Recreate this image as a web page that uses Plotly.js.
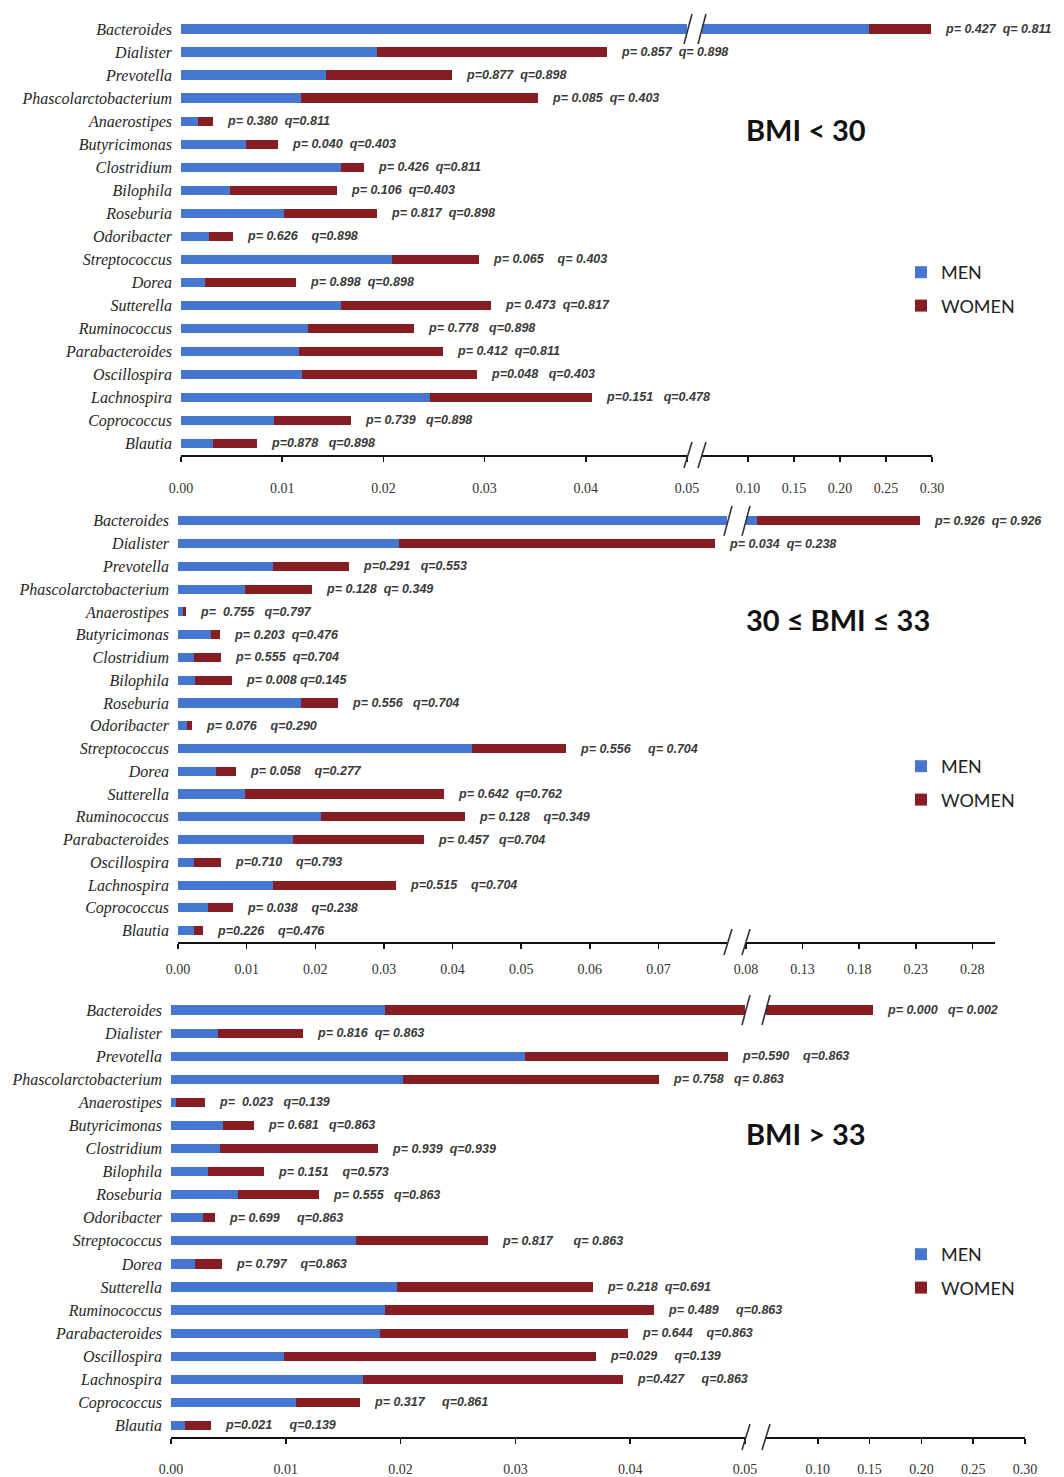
<!DOCTYPE html>
<html>
<head>
<meta charset="utf-8">
<script src="https://cdn.plot.ly/plotly-3.0.1.min.js"></script>
<style>html,body{margin:0;padding:0;background:#fff}#chart{width:1064px;height:1477px}</style>
</head>
<body>
<div id="chart"></div>
<script>
// ---------------- DATA ----------------
const genera = ['Bacteroides','Dialister','Prevotella','Phascolarctobacterium','Anaerostipes','Butyricimonas',
  'Clostridium','Bilophila','Roseburia','Odoribacter','Streptococcus','Dorea','Sutterella','Ruminococcus',
  'Parabacteroides','Oscillospira','Lachnospira','Coprococcus','Blautia'];

// BMI < 30
const men1   = [0.232,0.0194,0.0143,0.0119,0.0017,0.0064,0.0158,0.0048,0.0102,0.0028,0.0208,0.0024,0.0158,0.0125,0.0117,0.0120,0.0246,0.0092,0.0032];
const women1 = [0.067,0.0227,0.0125,0.0234,0.0015,0.0032,0.0023,0.0106,0.0092,0.0023,0.0086,0.0090,0.0148,0.0105,0.0142,0.0172,0.0160,0.0076,0.0043];
const pq1 = ['p= 0.427  q= 0.811','p= 0.857  q= 0.898','p=0.877  q=0.898','p= 0.085  q= 0.403','p= 0.380  q=0.811',
  'p= 0.040  q=0.403','p= 0.426  q=0.811','p= 0.106  q=0.403','p= 0.817  q=0.898','p= 0.626    q=0.898',
  'p= 0.065    q= 0.403','p= 0.898  q=0.898','p= 0.473  q=0.817','p= 0.778   q=0.898','p= 0.412  q=0.811',
  'p=0.048   q=0.403','p=0.151   q=0.478','p= 0.739   q=0.898','p=0.878   q=0.898'];

// 30 <= BMI <= 33
const men2   = [0.090,0.0322,0.0139,0.0098,0.0007,0.0048,0.0023,0.0025,0.0179,0.0013,0.0428,0.0055,0.0097,0.0209,0.0168,0.0023,0.0138,0.0044,0.0023];
const women2 = [0.144,0.0460,0.0110,0.0097,0.0005,0.0013,0.0040,0.0053,0.0054,0.0008,0.0137,0.0029,0.0290,0.0209,0.0191,0.0040,0.0180,0.0036,0.0014];
const pq2 = ['p= 0.926  q= 0.926','p= 0.034  q= 0.238','p=0.291   q=0.553','p= 0.128  q= 0.349','p=  0.755   q=0.797',
  'p= 0.203  q=0.476','p= 0.555  q=0.704','p= 0.008 q=0.145','p= 0.556   q=0.704','p= 0.076    q=0.290',
  'p= 0.556     q= 0.704','p= 0.058    q=0.277','p= 0.642  q=0.762','p= 0.128    q=0.349','p= 0.457   q=0.704',
  'p=0.710    q=0.793','p=0.515    q=0.704','p= 0.038    q=0.238','p=0.226    q=0.476'];

// BMI > 33
const men3   = [0.0186,0.0041,0.0308,0.0202,0.0004,0.0045,0.0043,0.0032,0.0058,0.0028,0.0161,0.0021,0.0197,0.0186,0.0182,0.0098,0.0167,0.0109,0.0012];
const women3 = [0.1344,0.0074,0.0177,0.0223,0.0026,0.0027,0.0137,0.0049,0.0071,0.0010,0.0115,0.0023,0.0171,0.0235,0.0216,0.0272,0.0227,0.0056,0.0023];
const pq3 = ['p= 0.000   q= 0.002','p= 0.816  q= 0.863','p=0.590    q=0.863','p= 0.758   q= 0.863','p=  0.023   q=0.139',
  'p= 0.681   q=0.863','p= 0.939  q=0.939','p= 0.151    q=0.573','p= 0.555   q=0.863','p= 0.699     q=0.863',
  'p= 0.817      q= 0.863','p= 0.797    q=0.863','p= 0.218  q=0.691','p= 0.489     q=0.863','p= 0.644    q=0.863',
  'p=0.029     q=0.139','p=0.427     q=0.863','p= 0.317     q=0.861','p=0.021     q=0.139'];

const titles = ['BMI < 30', '30 \u2264 BMI \u2264 33', 'BMI > 33'];
const leftTicks1  = [0, 0.01, 0.02, 0.03, 0.04, 0.05];
const rightTicks1 = [0.10, 0.15, 0.20, 0.25, 0.30];
const leftTicks2  = [0, 0.01, 0.02, 0.03, 0.04, 0.05, 0.06, 0.07];
const rightTicks2 = [0.08, 0.13, 0.18, 0.23, 0.28];
const leftTicks3  = [0, 0.01, 0.02, 0.03, 0.04, 0.05];
const rightTicks3 = [0.10, 0.15, 0.20, 0.25, 0.30];

// ---------------- LAYOUT CONFIG (pixels) ----------------
const W = 1064, H = 1477;
const BLUE = '#4677D0', RED = '#861D22';
const panels = [
  {men:men1, women:women1, pq:pq1, lt:leftTicks1, rt:rightTicks1, brk:0.05, rmax:0.30,
   xl:[181,687], xr:[702,932], yt:17.5, yb:455, standoff:14, title:titles[0], tx:806, ty:129, ly:289},
  {men:men2, women:women2, pq:pq2, lt:leftTicks2, rt:rightTicks2, brk:0.08, rmax:0.30,
   xl:[178,727], xr:[746,995], yt:509.5, yb:942, standoff:8, title:titles[1], tx:838, ty:620, ly:783},
  {men:men3, women:women3, pq:pq3, lt:leftTicks3, rt:rightTicks3, brk:0.05, rmax:0.30,
   xl:[171,745], xr:[766,1025], yt:998.5, yb:1437, standoff:13, title:titles[2], tx:806, ty:1133, ly:1271}
];

const px = v => v / W;
const py = v => 1 - v / H;
const nb = s => s.replace(/ /g, '\u00a0');

const traces = [];
const layout = {
  width: W, height: H, margin: {l:0, r:0, t:0, b:0},
  paper_bgcolor: '#fff', plot_bgcolor: '#fff',
  barmode: 'stack', showlegend: true,
  annotations: [], shapes: []
};

const tickFont = {family:'Liberation Serif, Times New Roman, serif', size:14, color:'#333'};

panels.forEach((P, i) => {
  const n = i + 1;
  const xL = 'x' + (2*i + 1 === 1 ? '' : (2*i + 1));
  const xR = 'x' + (2*i + 2);
  const yA = 'y' + (n === 1 ? '' : n);
  const lgd = 'legend' + (n === 1 ? '' : n);
  const xLkey = 'xaxis' + (2*i + 1 === 1 ? '' : (2*i + 1));
  const xRkey = 'xaxis' + (2*i + 2);
  const yKey = 'yaxis' + (n === 1 ? '' : n);

  [xL, xR].forEach((xa, k) => {
    traces.push({type:'bar', orientation:'h', y:genera, x:P.men, xaxis:xa, yaxis:yA, width:0.4,
      marker:{color:BLUE, line:{width:0}}, name:'MEN', legend:lgd, legendgroup:'m'+n,
      showlegend:k===0, hoverinfo:'skip'});
    traces.push({type:'bar', orientation:'h', y:genera, x:P.women, xaxis:xa, yaxis:yA, width:0.4,
      marker:{color:RED, line:{width:0}}, name:'WOMEN', legend:lgd, legendgroup:'w'+n,
      showlegend:k===0, hoverinfo:'skip'});
  });

  const axisCommon = {showgrid:false, zeroline:false, showline:true, linecolor:'#111', linewidth:2,
    ticks:'outside', ticklen:5, tickwidth:1.5, tickcolor:'#111', tickfont:tickFont,
    ticklabelstandoff:P.standoff, anchor: yA, fixedrange:true};
  layout[xLkey] = Object.assign({}, axisCommon, {domain:[px(P.xl[0]), px(P.xl[1])], range:[0, P.brk],
    tickmode:'array', tickvals:P.lt, ticktext:P.lt.map(v=>v.toFixed(2))});
  layout[xRkey] = Object.assign({}, axisCommon, {domain:[px(P.xr[0]), px(P.xr[1])], range:[P.brk, P.rmax],
    tickmode:'array', tickvals:P.rt, ticktext:P.rt.map(v=>v.toFixed(2))});
  layout[yKey] = {domain:[py(P.yb), py(P.yt)], type:'category', categoryarray:genera, range:[18.5,-0.5],
    anchor:xL, showgrid:false, zeroline:false, showline:false, ticks:'', ticklabelstandoff:8, fixedrange:true,
    tickfont:{family:'Liberation Serif, Times New Roman, serif', size:16, color:'#262626', style:'italic'}};

  // p / q annotations
  genera.forEach((g, j) => {
    const tot = Math.min(P.men[j] + P.women[j], P.rmax);
    layout.annotations.push({xref: tot > P.brk ? xR : xL, yref: yA, x: tot, y: g, text: nb(P.pq[j]),
      showarrow:false, xanchor:'left', yanchor:'middle', xshift:12,
      font:{family:'Liberation Sans Narrow, Arial Narrow, Liberation Sans, sans-serif', size:12.5, color:'#3a3a3a', weight:'bold', style:'italic'}});
  });

  // panel title
  layout.annotations.push({xref:'paper', yref:'paper', x:px(P.tx), y:py(P.ty), text:P.title, showarrow:false,
    xanchor:'center', yanchor:'middle', font:{family:'Lato, Open Sans, sans-serif', size:29, color:'#111', weight:'bold'}});

  // legend
  layout[lgd] = {x:px(901), y:py(P.ly), xanchor:'left', yanchor:'middle', traceorder:'grouped', tracegroupgap:7,
    bgcolor:'rgba(0,0,0,0)', font:{family:'Lato, Open Sans, sans-serif', size:18, color:'#222'}};

  // axis-break slashes (decorations)
  const rowH = (P.yb - P.yt) / genera.length;
  const rows = [P.yt + rowH/2, P.yb];
  const halfH = [15, 13];
  rows.forEach((cy, r) => {
    [P.xl[1] + 1, P.xr[0]].forEach(cx => {
      layout.shapes.push({type:'line', xref:'paper', yref:'paper',
        x0:px(cx - 4), y0:py(cy + halfH[r]), x1:px(cx + 4), y1:py(cy - halfH[r]),
        line:{color:'#333', width:1.6}});
    });
  });
});

Plotly.newPlot('chart', traces, layout, {displayModeBar:false, staticPlot:true});
</script>
</body>
</html>
